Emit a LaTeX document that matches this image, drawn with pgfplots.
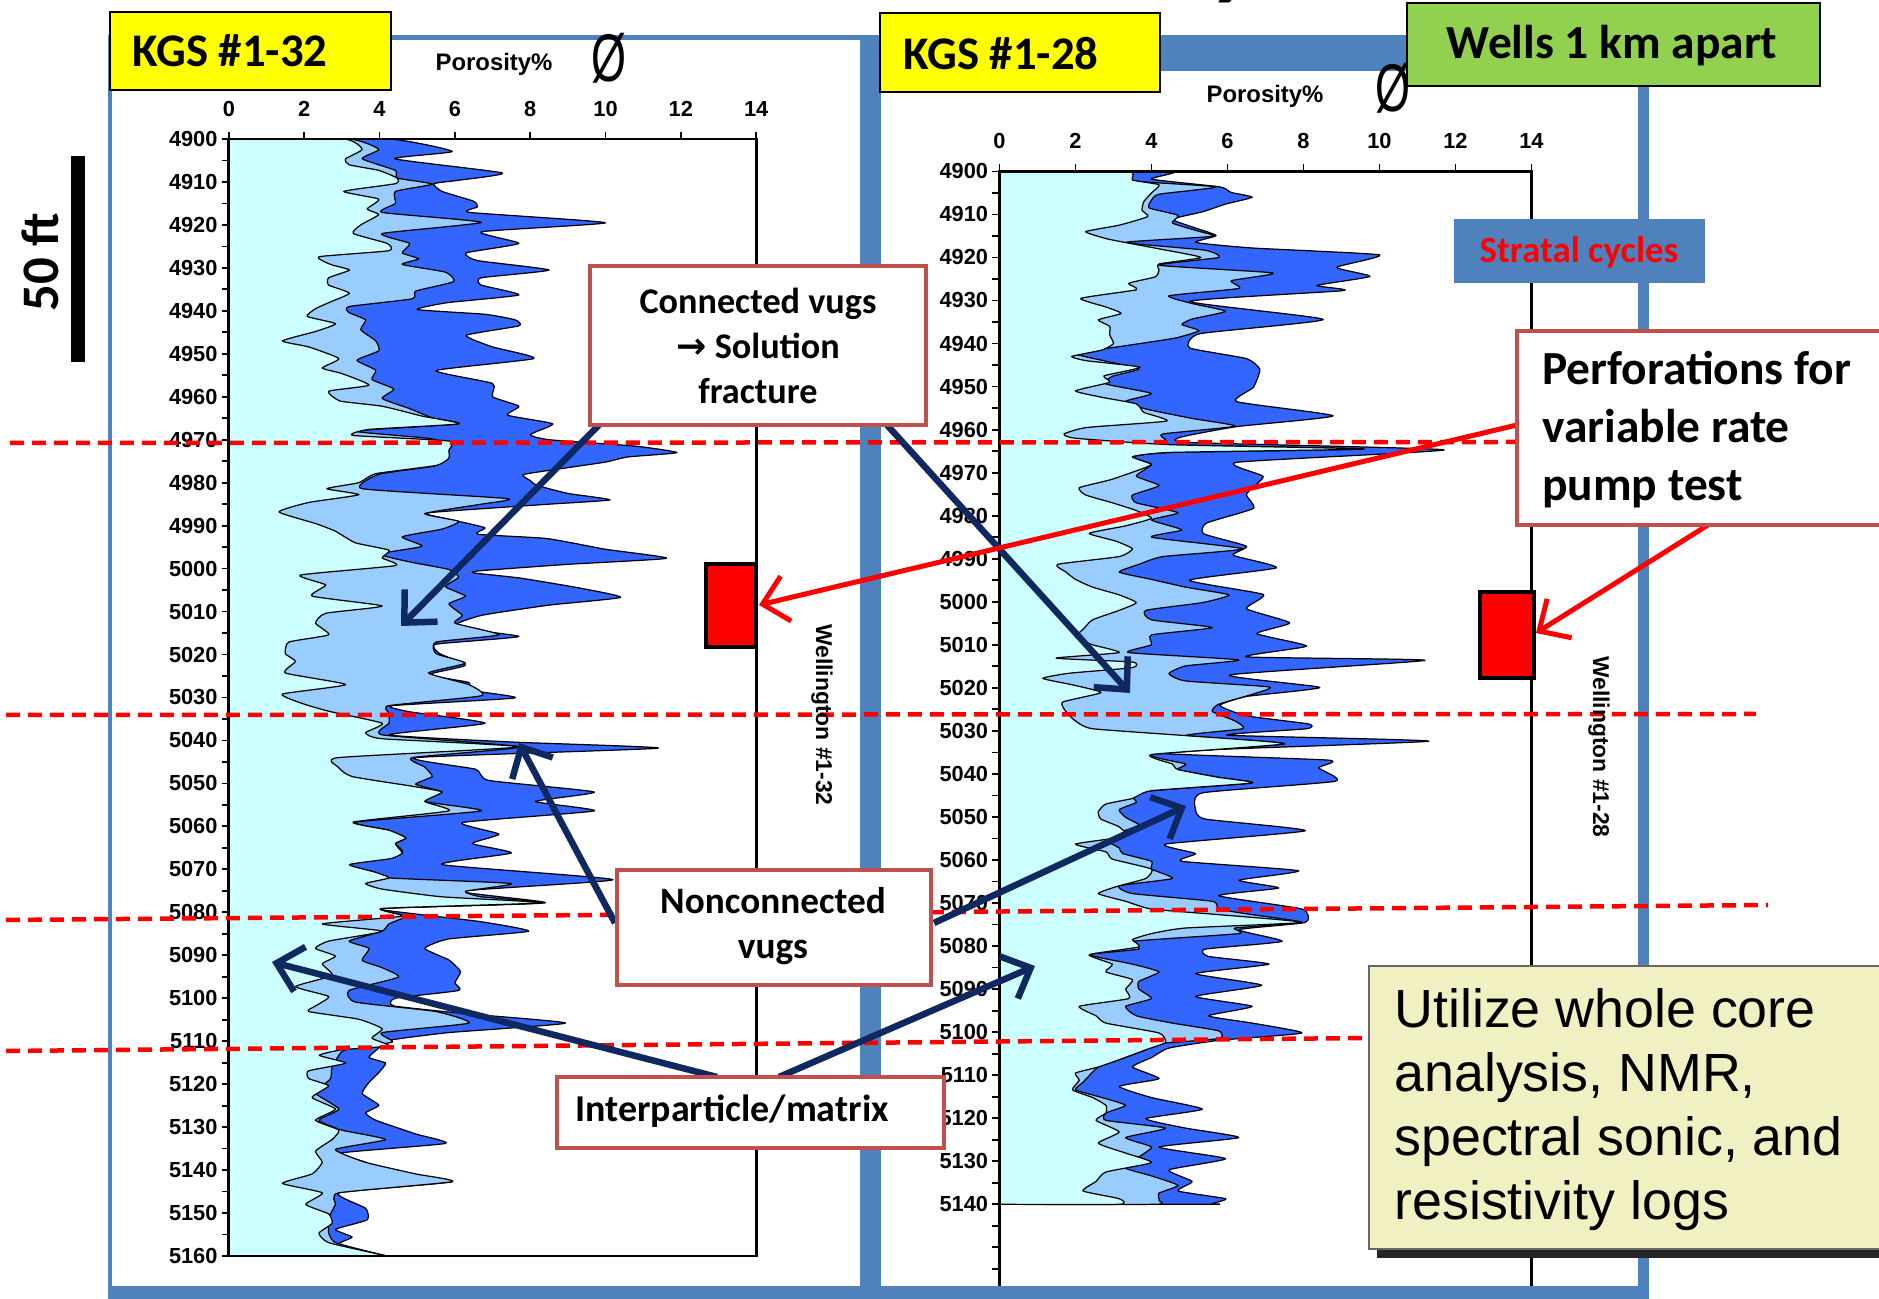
\documentclass[border=0pt]{standalone}
\usepackage{pgfplots}
\pgfplotsset{compat=1.18}
\usepackage{fontspec}
\usepackage{graphicx}
\usetikzlibrary{arrows.meta}
\setmainfont{Liberation Sans}
\newfontfamily\calibri{Carlito}
\newfontfamily\dejavu{DejaVu Sans}
\definecolor{frameblue}{RGB}{79,129,189}
\definecolor{dkblue}{RGB}{51,102,255}
\definecolor{ltblue}{RGB}{153,204,255}
\definecolor{cyanfill}{RGB}{204,255,255}
\definecolor{boxred}{RGB}{192,80,77}
\definecolor{navy}{RGB}{16,40,96}
\definecolor{kgsyellow}{RGB}{255,255,0}
\definecolor{wellgreen}{RGB}{146,208,80}
\definecolor{paleyellow}{RGB}{240,240,194}
\pgfplotsset{logstyle/.style={
  scale only axis, xmin=0, xmax=14, ymin=4900, ymax=5160, y dir=reverse,
  xtick={0,2,...,14}, ytick={4900,4910,...,5160}, minor ytick={4905,4915,...,5155},
  xtick pos=right, xticklabel pos=right, ytick pos=left, yticklabel pos=left,
  tick align=outside, major tick length=0.7mm, minor tick length=0.7mm,
  axis line style={line width=0.8pt},
  every tick/.append style={black, line width=0.5pt},
  every minor tick/.append style={black, line width=0.5pt},
  ticklabel style={font=\bfseries\fontsize{6.2}{7}\selectfont},
  xticklabel style={yshift=0.3mm},
  yticklabel style={xshift=0.8mm},
  /pgf/number format/assume math mode=true, /pgf/number format/1000 sep={},
  axis on top, no markers,
  every axis plot/.append style={draw=black, line width=0.35pt, line join=round, smooth, tension=0.3},
}}
\begin{document}
\begin{tikzpicture}[x=0.1mm,y=-0.1mm]
\path[use as bounding box] (0,0) rectangle (1879,1299);
% frame
\fill[frameblue] (108,35) rectangle (1649,1299);
\fill[white] (112,40) rectangle (860,1286);
\fill[white] (881,71) rectangle (1638,1286);
% cut title
\node[anchor=base east, font=\calibri\bfseries\fontsize{28}{30}\selectfont] at (1268,-12) {Porosity};

% ---------------- left log ----------------
\begin{axis}[logstyle, at={(22.89mm,-13.9mm)}, anchor=north west, width=52.73mm, height=111.7mm]
\addplot[fill=dkblue] coordinates {
(0,4900) (4.25,4900) (5.93,4902.9) (4.4,4904.6) (7.26,4907.9) (6.1,4909.6) (5.44,4910.4) (5.66,4912.2) (6.5,4914.5) (6.6,4915.8) (6.4,4917.1) (10.0,4919.5) (6.7,4921.6) (7.7,4924.3) (6.3,4926.5) (6.6,4928.3) (8.5,4930.5) (6.7,4932.3) (6.7,4934) (7.7,4936.3) (5.8,4938.1) (5.0,4939.7) (6.8,4940.8) (7.6,4942.1) (7.7,4943.5) (6.3,4945.7) (7.0,4948.4) (8.1,4951.1) (5.5,4953.9) (7.0,4956.9) (7.0,4960) (7.7,4962.2) (7.4,4964.3) (8.6,4966.3) (8.0,4968.8) (8.5,4970) (10.8,4971.5) (11.9,4973) (10.6,4974) (10.0,4975.2) (9.0,4976.5) (7.82,4978.1) (8.0,4979.5) (8.17,4980.6) (9.0,4982.5) (10.12,4984) (8.5,4985) (6.0,4986.5) (5.2,4987.2) (6.1,4989) (6.8,4990.5) (6.6,4992) (8.44,4993) (10.0,4995.5) (11.62,4997.6) (9.0,4999) (6.67,5000.5) (6.5,5001) (7.73,5002.2) (9.3,5004.5) (10.4,5006.7) (8.5,5008.5) (6.7,5010.9) (5.93,5013.6) (7.7,5015.8) (5.5,5017.6) (5.6,5019.8) (6.28,5022.5) (5.3,5024.7) (6.37,5026.5) (6.4,5028.3) (7.6,5030.1) (4.34,5031.9) (4.78,5033.3) (6.8,5036) (4.25,5038.7) (7.6,5040.4) (11.4,5041.8) (4.96,5044) (6.55,5046.7) (6.9,5049.3) (9.7,5052) (8.14,5054.2) (9.7,5056.4) (6.2,5059.1) (7.17,5061.8) (6.46,5064) (7.5,5066.2) (5.66,5068.9) (10.2,5072.4) (6.2,5075.1) (8.4,5077.8) (4.07,5079.1) (4.96,5080.4) (6.7,5082.2) (7.96,5084.4) (5.84,5086.2) (5.2,5088.4) (5.84,5091.1) (6.15,5093.8) (6.0,5096.4) (6.1,5098.2) (4.42,5100) (4.38,5101.8) (6.28,5103.6) (8.94,5105.8) (5.84,5108) (4.25,5109.8) (3.98,5111.6) (3.72,5113.8) (4.16,5115.1) (3.98,5117.3) (3.72,5119.6) (3.54,5122.2) (3.98,5124.9) (3.63,5126.7) (3.9,5128.4) (4.96,5131.6) (5.75,5133.8) (3.0,5136) (3.63,5138.2) (4.07,5140.4) (5.93,5142.7) (2.92,5145.3) (3.63,5148.9) (3.67,5151.6) (2.83,5153.8) (3.27,5155.6) (2.92,5157.3) (3.98,5159.6) (3.98,5160) (0,5160)
};
\addplot[fill=ltblue] coordinates {
(0,4900) (3.19,4900) (3.98,4902.4) (3.54,4904.6) (4.42,4907.3) (4.47,4909.1) (5.4,4910.5) (4.42,4912.2) (4.42,4915) (4.07,4917.1) (6.7,4919.4) (4.07,4922) (4.8,4924.3) (4.6,4926.5) (5.04,4927.9) (4.6,4929.2) (5.75,4931) (5.97,4933.2) (4.96,4935.4) (4.87,4937.2) (3.19,4939) (3.19,4940.4) (3.63,4942.1) (3.5,4944.4) (3.9,4947) (3.98,4949.3) (3.4,4951.5) (3.9,4953.8) (3.8,4956) (4.38,4958.2) (4.07,4960.4) (4.78,4962.7) (5.4,4964.9) (6.1,4966.3) (3.36,4968) (5.4,4969.8) (5.84,4972.5) (5.5,4976) (4.0,4978) (3.54,4981.4) (7.4,4983.7) (6.7,4985) (5.2,4987.2) (6.1,4989) (5.66,4990.8) (4.6,4992.6) (5.13,4994.8) (4.0,4996.6) (4.78,4998.4) (5.84,5000.2) (6.1,5002) (5.75,5004.2) (6.28,5006.4) (5.84,5008.2) (6.2,5010.9) (6.0,5012.7) (7.17,5015.4) (5.5,5017.1) (5.5,5019.8) (6.28,5022) (5.3,5024.3) (6.37,5027) (6.7,5029.6) (4.25,5031.9) (4.25,5033.7) (4.25,5036) (4.07,5038.7) (7.7,5041.5) (4.87,5044) (5.2,5046.2) (5.4,5048.4) (4.96,5050.2) (5.66,5052) (5.2,5054.2) (6.7,5056.4) (3.36,5059) (4.25,5060.9) (4.7,5062.7) (4.42,5064) (4.6,5066.2) (3.2,5068.9) (3.9,5070.7) (4.25,5072) (7.5,5073.3) (6.28,5075.1) (6.7,5076.4) (8.3,5077.8) (4.07,5079.1) (4.7,5080.9) (4.25,5082.7) (4.07,5084.4) (3.19,5086.7) (3.72,5088.4) (3.54,5091.2) (4.07,5092.9) (4.5,5095.1) (3.19,5098.2) (3.36,5100.9) (5.5,5103.1) (6.37,5105.8) (4.07,5108) (4.34,5110.2) (3.1,5112) (2.92,5113.3) (2.74,5116) (2.7,5118.7) (2.48,5120.4) (2.3,5122.2) (2.92,5125.8) (2.39,5128.4) (3.0,5130.7) (4.16,5132.9) (2.83,5135.2) (3.63,5138.2) (4.96,5140.9) (5.93,5142.7) (2.92,5145.3) (2.83,5148) (2.7,5150.2) (2.65,5152.4) (2.65,5154.7) (2.83,5156.9) (3.98,5159.6) (3.98,5160) (0,5160)
};
\addplot[fill=cyanfill] coordinates {
(0,4900) (3.05,4900) (3.54,4902.4) (3.1,4904.6) (3.19,4906) (3.98,4907.3) (4.47,4909.1) (4.42,4910.4) (3.05,4912.2) (3.98,4914) (3.67,4916.3) (3.98,4917.6) (3.5,4920) (3.3,4922) (4.2,4924.3) (4.25,4926) (2.4,4927.4) (2.7,4929.2) (3.2,4930.5) (2.65,4932.3) (2.65,4934) (3.2,4935.9) (2.65,4938.1) (2.3,4939.5) (2.08,4941.3) (2.83,4943) (2.3,4944.8) (1.42,4947) (2.12,4948.4) (2.92,4951.1) (2.48,4953.3) (3.0,4954.6) (3.72,4957.3) (2.65,4958.7) (2.96,4961) (4.07,4962.2) (5.13,4964.5) (6.1,4966.3) (3.72,4967.6) (3.3,4969) (5.84,4970.3) (5.84,4972.5) (5.84,4974.3) (5.5,4976) (3.9,4977.9) (3.45,4980) (2.6,4981.4) (3.45,4982.8) (2.12,4984.6) (1.33,4986.8) (2.3,4989.5) (2.83,4991.3) (3.36,4994) (4.25,4995.7) (4.07,4997.5) (4.42,4999.3) (1.9,5001.5) (2.57,5003.8) (2.21,5006.4) (4.07,5008.7) (2.57,5010.4) (2.3,5012.7) (2.65,5015.4) (1.59,5017.1) (1.5,5019.8) (1.77,5021.6) (1.5,5024.3) (3.1,5027) (1.42,5029.2) (1.95,5031.4) (2.65,5033.2) (4.07,5036) (3.63,5038.2) (4.07,5039.6) (7.7,5041.5) (2.9,5044) (2.9,5046.2) (3.27,5048.4) (4.9,5050.7) (5.66,5052) (5.2,5054.2) (5.84,5056.4) (3.3,5059) (4.25,5060.9) (4.7,5062.7) (4.42,5064) (4.6,5066.2) (4.3,5067.5) (3.2,5068.9) (3.9,5070.7) (4.25,5072) (3.63,5073.3) (4.07,5074.6) (5.66,5076.4) (8.3,5077.8) (4.07,5079.1) (4.6,5080.9) (2.48,5082.7) (4.07,5084.4) (2.65,5086.7) (2.3,5088.4) (2.83,5090.2) (2.48,5092) (2.74,5094.7) (1.77,5097.3) (2.65,5099.6) (2.3,5101.8) (2.12,5103.1) (3.45,5104.9) (4.07,5107.1) (3.8,5109.3) (4.25,5111.1) (3.0,5112) (2.4,5113.3) (3.1,5115.1) (2.12,5116.9) (2.12,5118.7) (2.65,5120.4) (2.21,5123.1) (2.83,5125.8) (2.3,5128.4) (2.92,5130.7) (2.74,5132.9) (2.3,5135.6) (2.48,5138.2) (2.21,5140.9) (1.42,5143.1) (2.48,5145.3) (2.04,5148) (2.65,5150.2) (2.74,5152.4) (2.39,5154.7) (2.65,5156.9) (3.98,5159.6) (3.98,5160) (0,5160)
};
\end{axis}

% ---------------- right log ----------------
\begin{axis}[logstyle, at={(99.95mm,-17.14mm)}, anchor=north west, width=53.2mm, height=111.9mm,
  yticklabels={4900,4910,4920,4930,4940,4950,4960,4970,4980,4990,5000,5010,5020,5030,5040,5050,5060,5070,5080,5090,5100,5110,5120,5130,5140,{},{}}]
\addplot[fill=dkblue] coordinates {
(0,4900) (4.55,4900) (4.0,4901.8) (5.8,4903.6) (6.1,4904.9) (6.65,4906) (5.95,4907.6) (5.34,4909.4) (4.55,4911.1) (5.07,4912.9) (5.7,4914.9) (5.16,4916.5) (6.65,4917.8) (10.0,4919.4) (8.87,4922.3) (9.75,4924.4) (8.35,4926.5) (9.05,4927.7) (5.0,4930.2) (8.52,4934.4) (5.28,4937.7) (5.0,4941) (6.5,4943.5) (6.85,4946) (6.68,4950.2) (6.24,4953.5) (8.78,4956.8) (6.24,4959.3) (4.75,4961.8) (5.0,4963) (11.7,4964.7) (6.24,4967.6) (6.94,4970.9) (6.5,4975) (6.68,4978.3) (5.45,4981.7) (5.37,4984.2) (6.5,4987.1) (6.15,4989.2) (7.29,4992.1) (5.0,4995) (6.94,4998.3) (6.5,5001.6) (7.64,5004.9) (6.77,5007.4) (8.08,5010.3) (6.5,5012.8) (11.2,5013.6) (6.06,5017) (8.43,5019.9) (6.5,5022) (5.8,5024.1) (6.5,5026.5) (8.14,5028.4) (8.08,5029.5) (6.0,5031) (11.3,5032.4) (4.0,5035) (8.66,5036.8) (8.4,5038.6) (8.84,5041.7) (5.34,5044.4) (5.16,5048.3) (5.42,5050.5) (8.05,5053.2) (4.37,5056.3) (5.16,5058.5) (4.8,5060.3) (7.87,5062.5) (6.3,5064.7) (7.35,5066.5) (5.77,5068.3) (7.96,5071.4) (8.05,5074.5) (6.3,5076.2) (7.44,5078.9) (5.42,5080.7) (5.5,5082.4) (7.09,5084.2) (5.16,5086.4) (6.9,5089.1) (5.16,5091.7) (6.65,5094) (5.5,5096.2) (6.65,5097.9) (7.96,5100.2) (5.77,5101.9) (4.46,5103.7) (4.0,5105.9) (3.5,5108.1) (4.2,5110.8) (3.15,5112.6) (4.0,5115.2) (5.34,5117.9) (3.85,5120.1) (4.9,5122.3) (6.3,5124.5) (4.2,5126.7) (5.95,5129.4) (4.46,5132) (5.07,5134.7) (4.7,5136.9) (5.95,5138.7) (5.6,5139.8) (5.6,5140) (0,5140)
};
\addplot[fill=ltblue] coordinates {
(0,4900) (3.4,4900) (3.5,4902.2) (5.7,4903.6) (4.2,4905.3) (4.0,4906.7) (3.94,4908.5) (4.7,4910.2) (4.55,4912) (5.2,4913.8) (5.6,4915.1) (3.32,4916.5) (5.4,4918.3) (5.77,4920) (4.2,4921.8) (7.2,4923.6) (6.1,4925.4) (6.3,4927.2) (4.46,4928.9) (5.07,4930.7) (5.95,4932.5) (5.07,4934.3) (4.8,4935.6) (5.25,4937) (4.64,4938.7) (3.32,4940.5) (2.0,4942.3) (2.8,4944.1) (3.67,4945.9) (2.97,4947.6) (2.8,4949.4) (4.0,4951.6) (3.32,4953.4) (3.85,4955.2) (5.07,4957.4) (6.2,4959.2) (4.3,4961) (4.37,4962.3) (4.5,4963.5) (9.6,4964.5) (4.5,4965.3) (3.5,4966.3) (4.0,4968.1) (3.6,4970.8) (4.2,4973) (3.5,4975.2) (3.6,4977) (4.7,4979.3) (4.0,4981) (4.8,4983.3) (4.0,4985) (6.4,4987.7) (4.3,4989.5) (3.67,4991.3) (3.15,4993.1) (4.0,4994.8) (4.9,4996.6) (6.04,4998.4) (5.34,5000.2) (3.85,5002) (4.0,5004.2) (5.6,5006) (4.0,5007.7) (4.0,5010) (3.4,5011.8) (6.3,5013.5) (4.9,5014.9) (4.46,5016.7) (4.9,5018.4) (7.1,5019.8) (6.65,5021.5) (5.77,5023.8) (5.6,5025.5) (6.2,5027.7) (6.4,5029.5) (4.9,5031.1) (7.5,5033) (4.0,5035.5) (4.9,5037.7) (4.7,5039) (5.77,5040.8) (6.65,5042.1) (4.0,5043.9) (3.5,5045.2) (3.6,5046.6) (3.15,5048.3) (3.32,5050.1) (3.67,5051.9) (3.15,5053.6) (2.8,5055.4) (3.15,5057.2) (3.24,5058.5) (4.0,5060.3) (4.0,5062.1) (4.55,5064.3) (3.15,5066) (3.5,5067.8) (5.6,5069.6) (5.77,5071.4) (6.65,5072.7) (7.96,5074.5) (6.2,5075.8) (6.3,5077.1) (3.5,5078.9) (3.67,5080.7) (2.36,5082) (3.5,5084.2) (4.2,5086) (3.67,5088.2) (3.67,5090) (4.0,5092.2) (3.32,5094) (3.6,5096.2) (4.55,5097.9) (5.77,5099.7) (5.77,5101.5) (4.0,5102.8) (3.85,5104.1) (3.15,5106.4) (2.6,5108.1) (2.19,5111.7) (2.0,5113.4) (2.7,5115.2) (3.32,5117) (2.8,5118.8) (2.8,5120.5) (4.37,5122.3) (3.32,5124.5) (4.0,5126.7) (3.6,5129.4) (3.32,5131.6) (4.0,5133.4) (4.7,5135.6) (4.2,5137.4) (4.2,5139.1) (4.1,5140) (0,5140)
};
\addplot[fill=cyanfill] coordinates {
(0,4900) (3.37,4900) (3.5,4902) (4.2,4903.1) (4.0,4905) (3.8,4907) (3.75,4909) (3.9,4910.5) (3.15,4912.5) (2.27,4914) (2.8,4915.6) (3.3,4916.5) (4.2,4918) (5.3,4920) (4.2,4921.5) (4.2,4923) (4.1,4924.5) (3.4,4926) (3.6,4927.5) (2.14,4929.5) (2.8,4931.5) (3.2,4933) (2.6,4934.5) (2.9,4936) (2.9,4938) (3.0,4940) (2.7,4941.5) (1.9,4943) (2.3,4944) (3.7,4945.5) (2.75,4947.5) (2.9,4949) (2.0,4951) (2.7,4952.5) (3.6,4954) (3.8,4956) (4.4,4958) (2.3,4959.5) (1.7,4961) (2.0,4962) (4.5,4963.5) (9.6,4964.5) (4.5,4965.3) (3.5,4966.3) (4.0,4968.1) (3.5,4969.9) (2.9,4971.7) (2.1,4973.5) (2.27,4975.2) (2.97,4977) (3.6,4978.8) (4.0,4980.6) (3.3,4982.4) (2.36,4984.1) (3.06,4985.9) (3.5,4987.7) (3.15,4989.5) (1.53,4991.3) (1.75,4993.1) (2.0,4994.8) (2.45,4996.6) (3.15,4998.4) (3.6,5000.2) (3.15,5002) (2.45,5004.2) (2.2,5006.4) (2.0,5008.2) (2.45,5010) (3.15,5011.8) (1.49,5013.1) (3.5,5014) (3.5,5015.3) (1.84,5016.6) (1.14,5017.8) (1.92,5019.3) (2.67,5021.1) (1.66,5023.3) (1.75,5025.5) (2.0,5027.7) (2.45,5029.5) (4.9,5031.1) (7.5,5033) (4.0,5035.5) (4.55,5037.7) (4.7,5039) (5.77,5040.8) (6.65,5042.1) (4.0,5043.9) (3.5,5045.7) (2.8,5047) (2.6,5048.8) (2.67,5050.5) (3.15,5052.3) (3.32,5054.5) (2.0,5056.3) (2.8,5058.1) (2.97,5059.8) (4.0,5062.1) (3.85,5064.3) (3.15,5066) (2.6,5067.8) (3.32,5069.6) (4.0,5071.4) (5.77,5072.7) (7.96,5074.5) (4.9,5075.8) (4.0,5077.1) (3.5,5078.5) (3.67,5080.2) (2.36,5082) (2.97,5084.2) (2.8,5086) (3.5,5087.8) (3.32,5090) (3.4,5092.2) (2.1,5094) (2.54,5096.2) (2.8,5097.9) (4.2,5100.2) (4.37,5102.4) (3.85,5104.1) (3.15,5106.4) (2.6,5108.1) (2.0,5109.5) (2.1,5111.2) (1.92,5113.4) (2.45,5115.2) (2.8,5117) (2.8,5118.8) (2.54,5120.5) (3.15,5123.2) (2.6,5125.8) (3.32,5128.1) (4.0,5130.3) (2.8,5132.5) (2.54,5134.7) (2.2,5136.9) (3.15,5138.7) (3.15,5140) (0,5140)
};
\end{axis}
\fill[frameblue] (108,1286) rectangle (1649,1299);

% axis captions
\node[font=\bfseries\fontsize{6.8}{8}\selectfont] at (494,64) {Porosity\%};
\node at (609,58) {\fontsize{16}{16}\selectfont\scalebox{0.8}[1.2]{Ø}};
\node[font=\bfseries\fontsize{6.8}{8}\selectfont] at (1265,96) {Porosity\%};
\node at (1393,88) {\fontsize{16}{16}\selectfont\scalebox{0.8}[1.2]{Ø}};

% title boxes
\draw[fill=kgsyellow, line width=0.6pt] (110,12) rectangle (391,90);
\node[font=\calibri\bfseries\fontsize{13.3}{15}\selectfont] at (230,51) {KGS \#1-32};
\draw[fill=kgsyellow, line width=0.6pt] (880,13) rectangle (1160,92);
\node[font=\calibri\bfseries\fontsize{13.3}{15}\selectfont] at (1001,54) {KGS \#1-28};

% stratal boundaries
\begin{scope}[red, line width=0.45mm, dash pattern=on 1.4mm off 0.8mm]
\draw (10,443) -- (1516,442);
\draw (6,715) -- (1756,714);
\draw (6,920) -- (1768,905);
\draw (6,1051) -- (1368,1038);
\end{scope}

% perforations
\draw[fill=red, line width=1.2pt] (706,564) rectangle (756,647);
\draw[fill=red, line width=1.2pt] (1480,592) rectangle (1534,678);
\node[rotate=-90, font=\bfseries\fontsize{6.5}{8}\selectfont] at (822,715) {Wellington \#1-32};
\node[rotate=-90, font=\bfseries\fontsize{6.5}{8}\selectfont] at (1599,747) {Wellington \#1-28};

% arrows
\begin{scope}[navy, line width=0.65mm, -{Straight Barb[length=2.4mm,width=4.6mm]}]
\draw (599,425) -- (401,626);
\draw (887,425) -- (1130,693);
\draw (615,923) -- (519,743);
\draw (934,923) -- (1186,806);
\draw (717,1077) -- (272,962);
\draw (779,1077) -- (1035,966);
\end{scope}
\begin{scope}[red, line width=0.5mm, -{Straight Barb[length=2.4mm,width=4.6mm]}]
\draw (1517,425) -- (759,605);
\draw (1708,525) -- (1536,633);
\end{scope}

% annotation boxes
\draw[boxred, line width=1pt, fill=white] (590,266) rectangle (926,425);
\node[align=center, font=\calibri\bfseries\fontsize{10.3}{12.8}\selectfont] at (758,346) {Connected vugs\\{\dejavu\bfseries →} Solution\\fracture};
\draw[boxred, line width=1pt, fill=white] (617,870) rectangle (931,985);
\node[align=center, font=\calibri\bfseries\fontsize{10.6}{13}\selectfont] at (773,926) {Nonconnected\\vugs};
\draw[boxred, line width=1pt, fill=white] (557,1077) rectangle (944,1148);
\node[font=\calibri\bfseries\fontsize{10.8}{13}\selectfont] at (732,1111) {Interparticle/matrix};
\draw[boxred, line width=1pt, fill=white] (1517,331) rectangle (1900,525);
\node[anchor=west, align=left, font=\calibri\bfseries\fontsize{13.5}{16.5}\selectfont] at (1530,430) {Perforations for\\variable rate\\pump test};
\fill[frameblue] (1454,219) rectangle (1705,283);
\node[text=red, font=\calibri\bfseries\fontsize{10.5}{12}\selectfont] at (1579,252) {Stratal cycles};
\fill[black!85] (1377,974) rectangle (1900,1258);
\draw[fill=paleyellow, draw=black!60, line width=0.5pt] (1369,966) rectangle (1900,1249);
\node[anchor=west, align=left, font=\fontsize{15.3}{18.2}\selectfont] at (1382,1110) {Utilize whole core\\analysis, NMR,\\spectral sonic, and\\resistivity logs};
\draw[fill=wellgreen, line width=0.6pt] (1407,3) rectangle (1820,86);
\node[font=\calibri\bfseries\fontsize{13.5}{15}\selectfont] at (1612,46) {Wells 1 km apart};

% scale bar
\fill[black] (71,156) rectangle (85,362);
\node[rotate=90, font=\calibri\bfseries\fontsize{15}{18}\selectfont] at (40,262) {50 ft};
\end{tikzpicture}
\end{document}
